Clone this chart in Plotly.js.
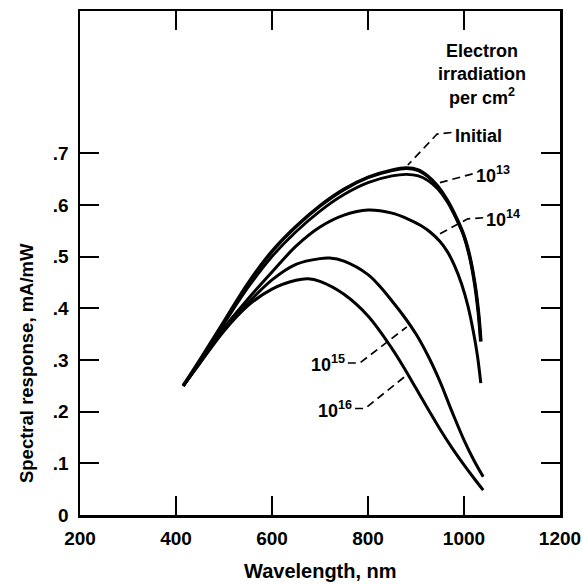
<!DOCTYPE html>
<html>
<head>
<meta charset="utf-8">
<script src="https://cdn.plot.ly/plotly-3.0.1.min.js"></script>
<style>html,body{margin:0;padding:0;background:#fff;}</style>
</head>
<body>
<div id="chart" style="width:583px;height:584px;"></div>
<script>
// Wavelength (nm) and spectral response (mA/mW)
const initialX = [415, 450, 500, 550, 600, 650, 700, 750, 800, 850, 880, 905, 925, 945, 965, 985, 1000, 1012, 1022, 1030, 1035];
const initialY = [0.250, 0.300, 0.374, 0.448, 0.510, 0.558, 0.598, 0.630, 0.653, 0.667, 0.671, 0.667, 0.655, 0.636, 0.609, 0.573, 0.540, 0.500, 0.450, 0.392, 0.336];

const e13X = [415, 450, 500, 550, 600, 650, 700, 750, 800, 850, 880, 905, 925, 945, 965, 985, 1000, 1012, 1022, 1030, 1035];
const e13Y = [0.250, 0.298, 0.370, 0.440, 0.500, 0.548, 0.588, 0.620, 0.643, 0.656, 0.659, 0.656, 0.647, 0.631, 0.606, 0.571, 0.539, 0.499, 0.450, 0.392, 0.336];

const e14X = [415, 450, 500, 550, 600, 650, 700, 750, 800, 850, 880, 910, 930, 950, 965, 980, 995, 1008, 1020, 1028, 1035];
const e14Y = [0.250, 0.296, 0.362, 0.418, 0.470, 0.520, 0.557, 0.580, 0.590, 0.584, 0.574, 0.560, 0.547, 0.529, 0.510, 0.483, 0.447, 0.405, 0.352, 0.308, 0.255];

const e15X = [415, 450, 500, 550, 600, 650, 700, 720, 750, 800, 825, 850, 875, 900, 925, 950, 975, 1000, 1020, 1040];
const e15Y = [0.250, 0.295, 0.358, 0.410, 0.455, 0.485, 0.496, 0.497, 0.491, 0.465, 0.442, 0.414, 0.384, 0.350, 0.308, 0.258, 0.200, 0.145, 0.107, 0.074];

const e16X = [415, 450, 500, 550, 600, 650, 675, 700, 750, 800, 850, 875, 900, 925, 950, 975, 1000, 1020, 1040];
const e16Y = [0.250, 0.294, 0.356, 0.405, 0.437, 0.454, 0.457, 0.452, 0.427, 0.385, 0.322, 0.285, 0.245, 0.205, 0.166, 0.130, 0.097, 0.072, 0.048];

const xTicks = [200, 400, 600, 800, 1000, 1200];
const xTickText = ['200', '400', '600', '800', '1000', '1200'];
const yTicks = [0, 0.1, 0.2, 0.3, 0.4, 0.5, 0.6, 0.7];
const yTickText = ['0', '.1', '.2', '.3', '.4', '.5', '.6', '.7'];

const FONT = 'Liberation Sans, Arial, Helvetica, sans-serif';

function curve(x, y, w) {
  return {x: x, y: y, type: 'scatter', mode: 'lines',
          line: {color: '#000', width: w, shape: 'spline', smoothing: 1},
          hoverinfo: 'skip', showlegend: false};
}

const traces = [
  curve(initialX, initialY, 3.6),
  curve(e13X, e13Y, 2.8),
  curve(e14X, e14Y, 3),
  curve(e15X, e15Y, 3),
  curve(e16X, e16Y, 3)
];

function leader(pts) {
  let d = 'M ' + pts.map(p => p[0] + ',' + p[1]).join(' L ');
  return {type: 'path', xref: 'x', yref: 'y', path: d,
          line: {color: '#000', width: 1.7, dash: '8px,5px'}};
}

const shapes = [
  leader([[974, 0.740], [944, 0.737], [883, 0.677]]),
  leader([[1018, 0.660], [950, 0.643]]),
  leader([[1040, 0.575], [1008, 0.573], [944, 0.541]]),
  leader([[758, 0.294], [783, 0.294], [881, 0.364]]),
  leader([[773, 0.206], [794, 0.206], [881, 0.271]])
];

function label(x, y, text, xanchor) {
  return {x: x, y: y, xref: 'x', yref: 'y', text: text, showarrow: false,
          xanchor: xanchor, yanchor: 'middle',
          font: {family: FONT, size: 18, color: '#000', weight: 'bold'}};
}

const annotations = [
  {x: 1037, y: 0.920, xref: 'x', yref: 'y', xanchor: 'center', yanchor: 'top',
   text: 'Electron<br>irradiation<br>per cm<sup>2</sup>', showarrow: false, align: 'center',
   font: {family: FONT, size: 18, color: '#000', weight: 'bold'}},
  label(977, 0.734, 'Initial', 'left'),
  label(1021, 0.658, '10<sup>13</sup>', 'left'),
  label(1042, 0.574, '10<sup>14</sup>', 'left'),
  label(756, 0.293, '10<sup>15</sup>', 'right'),
  label(771, 0.205, '10<sup>16</sup>', 'right'),
  {x: -0.1125, y: 0.294, xref: 'paper', yref: 'y', xanchor: 'center', yanchor: 'middle',
   text: 'Spectral response, mA/mW', textangle: -90, showarrow: false,
   font: {family: FONT, size: 18.5, color: '#000', weight: 'bold'}},
  {x: 0.5, y: -0.111, xref: 'paper', yref: 'paper', xanchor: 'center', yanchor: 'middle',
   text: 'Wavelength, nm', showarrow: false,
   font: {family: FONT, size: 20, color: '#000', weight: 'bold'}}
];

const axisCommon = {
  showgrid: false, zeroline: false, showline: true, linecolor: '#000', linewidth: 2.5,
  mirror: 'ticks', ticks: 'inside', ticklen: 19, tickwidth: 2, tickcolor: '#000',
  tickfont: {family: FONT, size: 19, color: '#000', weight: 'bold'}
};

const layout = {
  width: 583, height: 584,
  margin: {l: 80, r: 23, t: 11, b: 69},
  paper_bgcolor: '#fff', plot_bgcolor: '#fff',
  xaxis: Object.assign({}, axisCommon, {
    range: [200, 1200], tickmode: 'array', tickvals: xTicks, ticktext: xTickText,
    ticklabelstandoff: 5
  }),
  yaxis: Object.assign({}, axisCommon, {
    range: [0, 0.975], tickmode: 'array', tickvals: yTicks, ticktext: yTickText,
    ticklabelstandoff: 5
  }),
  shapes: shapes,
  annotations: annotations,
  showlegend: false
};

Plotly.newPlot('chart', traces, layout, {displayModeBar: false, staticPlot: true});
</script>
</body>
</html>
